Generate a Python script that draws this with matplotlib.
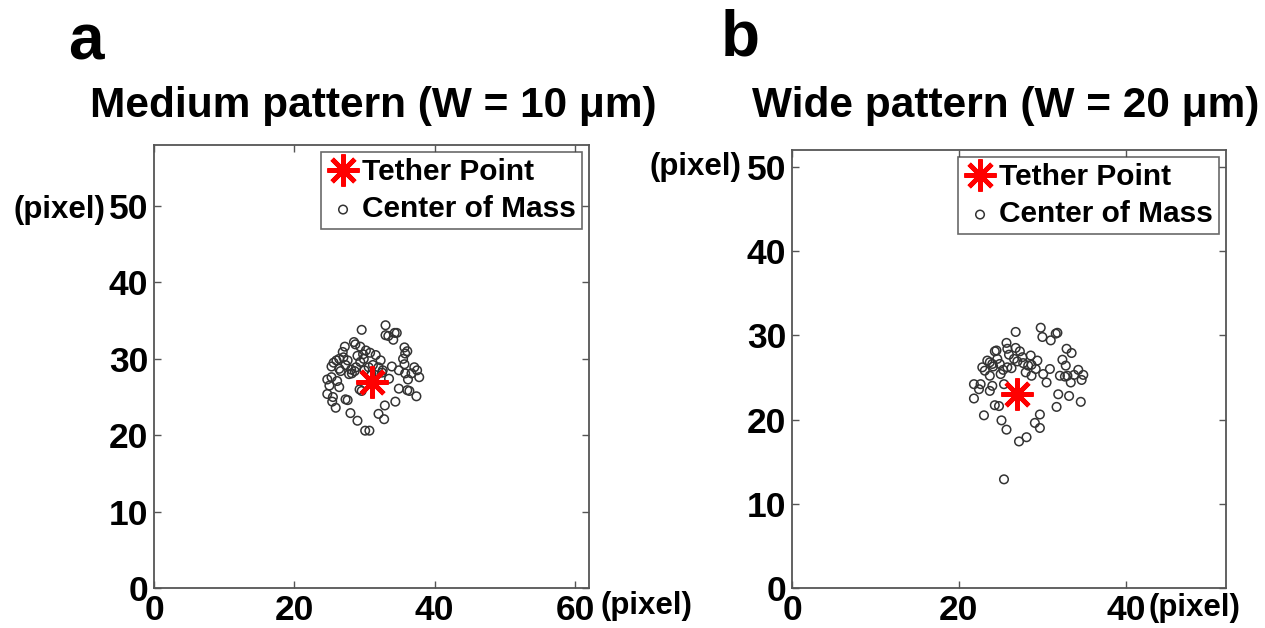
"""Tether point vs. center of mass scatter for medium and wide patterns."""

import matplotlib
matplotlib.use("Agg")
import matplotlib.pyplot as plt

plt.rcParams["font.family"] = ["Liberation Sans", "DejaVu Sans"]
plt.rcParams["font.weight"] = "bold"

# Panel a: medium pattern (W = 10 um)
tether_a = (31.0, 27.0)
com_a_x = [29.6, 33.0, 33.0, 33.4, 34.1, 34.3, 34.6, 35.7, 36.1, 35.8,
           35.5, 35.7, 28.5, 28.7, 27.2, 26.9, 29.4, 30.2, 30.8, 31.6,
           26.4, 27.6, 25.6, 25.3, 26.4, 27.3, 28.1, 28.8, 29.4, 29.9,
           32.3, 32.0, 32.6, 33.9, 34.9, 35.8, 36.2, 37.1, 37.5, 37.8,
           36.7, 33.5, 24.7, 25.3, 26.1, 25.0, 26.4, 24.7, 25.5, 25.4,
           25.9, 27.3, 27.6, 29.3, 29.6, 34.9, 36.1, 36.4, 37.4, 34.4,
           32.9, 28.0, 29.0, 32.0, 32.8, 30.1, 30.7, 28.2, 28.6, 30.0,
           30.6, 26.0, 27.0, 29.0, 31.2, 32.5, 27.8, 26.6, 29.8, 31.0]
com_a_y = [33.8, 34.4, 33.1, 33.0, 32.5, 33.4, 33.4, 31.5, 31.0, 30.7,
           30.0, 29.3, 32.2, 31.9, 31.6, 30.9, 31.6, 31.1, 30.8, 30.5,
           30.0, 29.8, 29.5, 29.0, 28.7, 29.2, 28.6, 28.9, 29.6, 30.0,
           29.8, 28.9, 28.5, 29.0, 28.5, 28.1, 27.3, 28.9, 28.5, 27.6,
           28.1, 27.4, 27.3, 27.6, 27.1, 26.5, 26.3, 25.4, 25.0, 24.4,
           23.6, 24.7, 24.6, 26.0, 25.8, 26.1, 25.9, 25.8, 25.1, 24.4,
           23.9, 22.9, 21.9, 22.8, 22.1, 20.6, 20.6, 28.1, 28.4, 28.5,
           28.9, 29.8, 30.2, 30.4, 29.2, 28.2, 28.0, 28.4, 30.6, 28.0]

# Panel b: wide pattern (W = 20 um)
tether_b = (27.0, 23.0)
com_b_x = [26.8, 29.8, 30.0, 31.0, 31.6, 31.8, 25.7, 25.8, 26.8, 27.3,
           24.3, 24.5, 28.6, 27.6, 26.6, 29.4, 23.4, 23.7, 24.6, 22.8,
           23.1, 24.1, 25.3, 25.8, 26.3, 27.7, 28.7, 29.2, 28.0, 28.7,
           30.1, 30.5, 30.9, 25.0, 23.7, 32.4, 32.8, 32.9, 33.5, 32.1,
           32.7, 33.0, 33.4, 33.8, 34.3, 34.7, 34.9, 21.8, 22.6, 22.4,
           24.0, 23.7, 25.4, 21.8, 24.3, 24.8, 31.9, 33.2, 34.6, 31.7,
           23.0, 25.1, 29.7, 29.1, 29.7, 25.7, 27.2, 28.1, 25.4, 24.9,
           26.0, 27.0, 28.3, 24.0]
com_b_y = [30.4, 30.9, 29.8, 29.4, 30.2, 30.3, 29.1, 28.4, 28.5, 28.1,
           28.1, 28.2, 27.6, 27.4, 27.2, 27.0, 27.0, 26.8, 27.2, 26.2,
           25.8, 26.3, 25.9, 26.2, 26.1, 26.7, 26.5, 26.0, 25.6, 25.2,
           25.4, 24.4, 26.0, 25.4, 25.2, 27.1, 26.4, 28.4, 27.9, 25.2,
           25.1, 25.2, 24.4, 25.3, 25.9, 24.7, 25.3, 24.2, 24.2, 23.6,
           24.0, 23.4, 24.2, 22.5, 21.7, 21.6, 23.0, 22.8, 22.1, 21.5,
           20.5, 19.9, 20.6, 19.6, 19.0, 18.8, 17.4, 17.9, 12.9, 26.6,
           27.7, 26.9, 26.4, 26.6]

panels = [
    dict(title="Medium pattern (W = 10 \u03bcm)", tether=tether_a,
         x=com_a_x, y=com_a_y, xlim=62, ylim=58, xticks=[0, 20, 40, 60],
         yticks=[0, 10, 20, 30, 40, 50], title_x=373),
    dict(title="Wide pattern (W = 20 \u03bcm)", tether=tether_b,
         x=com_b_x, y=com_b_y, xlim=52, ylim=52, xticks=[0, 20, 40],
         yticks=[0, 10, 20, 30, 40, 50], title_x=1006),
]

W, H = 1265, 628
fig = plt.figure(figsize=(W / 100, H / 100), dpi=100)

# axes boxes in pixels: left, right, top, bottom
boxes = [(154, 589, 145, 588), (792, 1226, 150, 588)]


def fx(px):
    return px / W


def fy(py):
    return 1 - py / H


for p, (l, r, t, b) in zip(panels, boxes):
    ax = fig.add_axes([fx(l), fy(b), (r - l) / W, (b - t) / H])
    ax.scatter(p["x"], p["y"], s=38, facecolors="none", edgecolors="#333333",
               linewidths=1.1, label="Center of Mass", zorder=2)
    ax.plot(p["tether"][0], p["tether"][1], linestyle="none",
            marker=(8, 2, 0), markersize=23, markeredgewidth=3.4,
            color="#ff0000", label="Tether Point", zorder=3)
    ax.set_xlim(0, p["xlim"])
    ax.set_ylim(0, p["ylim"])
    ax.set_xticks(p["xticks"])
    ax.set_yticks(p["yticks"])
    ax.tick_params(direction="in", top=True, right=True, length=5,
                   width=1, color="#555555", labelsize=25.5, pad=4)
    for lab in ax.get_xticklabels() + ax.get_yticklabels():
        lab.set_fontweight("bold")
    for sp in ax.spines.values():
        sp.set_color("#555555")
        sp.set_linewidth(1.3)

    handles, labels = ax.get_legend_handles_labels()
    leg = ax.legend(handles[::-1], labels[::-1], loc="upper right",
                    prop={"weight": "bold", "size": 21.5},
                    frameon=True, fancybox=False, edgecolor="#444444",
                    borderpad=0.2, handletextpad=0.1, handlelength=1.05,
                    labelspacing=0.3, borderaxespad=0.25)
    leg.get_frame().set_linewidth(1.2)

    fig.text(fx(p["title_x"]), fy(106), p["title"], ha="center",
             va="center", fontsize=30.5, fontweight="bold")

# panel letters
fig.text(fx(86), fy(42), "a", ha="center", va="center", fontsize=46,
         fontweight="bold")
fig.text(fx(740), fy(39), "b", ha="center", va="center", fontsize=46,
         fontweight="bold")

# axis unit labels
fig.text(fx(105), fy(210), "(pixel)", ha="right", va="center", fontsize=22.5,
         fontweight="bold")
fig.text(fx(600), fy(606), "(pixel)", ha="left", va="center", fontsize=22.5,
         fontweight="bold")
fig.text(fx(741), fy(167), "(pixel)", ha="right", va="center", fontsize=22.5,
         fontweight="bold")
fig.text(fx(1149), fy(608), "(pixel)", ha="left", va="center", fontsize=22.5,
         fontweight="bold")

fig.savefig("out.png", dpi=100, facecolor="white")
